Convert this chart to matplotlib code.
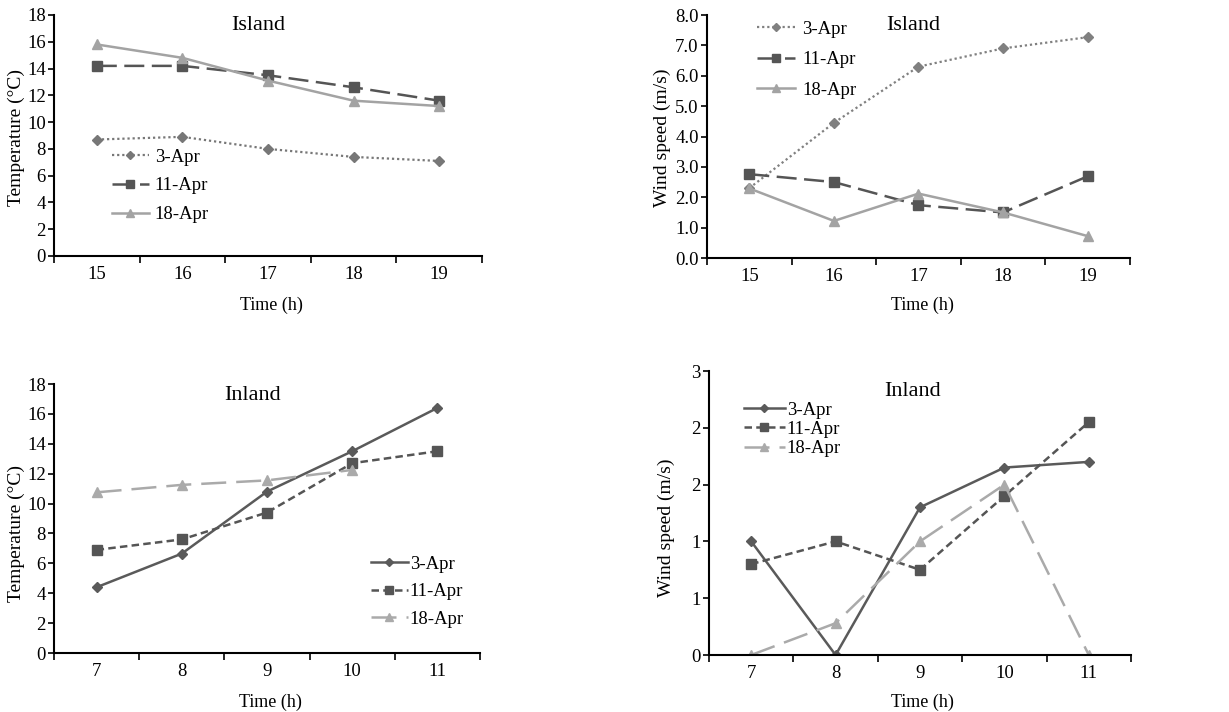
import matplotlib
matplotlib.use("Agg")
import matplotlib.pyplot as plt
import numpy as np

plt.rcParams['font.family'] = ['Liberation Serif', 'DejaVu Serif']

W, H = 1229, 712

# ---------------- data ----------------
series_labels = ['3-Apr', '11-Apr', '18-Apr']

island_hours = ['15', '16', '17', '18', '19']
island_temp_3apr = [8.7, 8.9, 8.0, 7.4, 7.1]
island_temp_11apr = [14.2, 14.2, 13.5, 12.6, 11.6]
island_temp_18apr = [15.8, 14.8, 13.1, 11.6, 11.2]

island_wind_3apr = [2.3, 4.45, 6.3, 6.9, 7.27]
island_wind_11apr = [2.76, 2.5, 1.74, 1.5, 2.69]
island_wind_18apr = [2.29, 1.22, 2.12, 1.5, 0.72]

inland_hours = ['7', '8', '9', '10', '11']
inland_temp_3apr = [4.4, 6.65, 10.8, 13.5, 16.4]
inland_temp_11apr = [6.9, 7.6, 9.4, 12.7, 13.5]
inland_temp_18apr = [10.75, 11.25, 11.55, 12.25, np.nan]

inland_wind_3apr = [1.0, 0.0, 1.3, 1.65, 1.7]
inland_wind_11apr = [0.8, 1.0, 0.75, 1.4, 2.05]
inland_wind_18apr = [0.0, 0.28, 1.0, 1.5, 0.0]

temp_ticks = [0, 2, 4, 6, 8, 10, 12, 14, 16, 18]
island_wind_ticks = [0, 1, 2, 3, 4, 5, 6, 7, 8]
inland_wind_ticks = [0, 0.5, 1.0, 1.5, 2.0, 2.5]
inland_wind_ticklabels = ['0', '1', '1', '2', '2', '3']

TICK_FS = 13.5
XLAB_FS = 13
YLAB_FS = 14
LEG_FS = 13.5
TITLE_FS = 16

fig = plt.figure(figsize=(W / 100, H / 100), dpi=100)


def make_ax(x0, y0, x1, y1):
    return fig.add_axes([x0 / W, 1 - y1 / H, (x1 - x0) / W, (y1 - y0) / H])


def ftext(x, y, s, **kw):
    fig.text(x / W, 1 - y / H, s, **kw)


def style_axes(ax, cats, yticks, ylim, yticklabels=None):
    n = len(cats)
    ax.set_xlim(-0.5, n - 0.5)
    ax.set_ylim(*ylim)
    ax.set_xticks(range(n))
    ax.set_xticklabels(cats, fontsize=TICK_FS)
    ax.set_xticks(np.arange(-0.5, n, 1.0), minor=True)
    ax.tick_params(axis='x', which='major', length=0, pad=7)
    ax.tick_params(axis='x', which='minor', length=5, width=1.2, direction='out')
    ax.set_yticks(yticks)
    if yticklabels is not None:
        ax.set_yticklabels(yticklabels)
    ax.tick_params(axis='y', which='major', length=4, width=1.2, direction='out',
                   pad=2, labelsize=TICK_FS)
    for s in ['top', 'right']:
        ax.spines[s].set_visible(False)
    for s in ['left', 'bottom']:
        ax.spines[s].set_linewidth(1.5)
        ax.spines[s].set_color('black')
    ax.set_facecolor('none')


x = np.arange(5)

# ---------------- top-left: island temperature ----------------
ax1 = make_ax(54, 15, 482, 256)
ax1.plot(x, island_temp_3apr, color='#777777', lw=1.6, ls=(0, (1, 1.3)),
         marker='D', ms=5, label=series_labels[0])
ax1.plot(x, island_temp_11apr, color='#555555', lw=1.8, ls=(0, (8, 3)),
         marker='s', ms=7, label=series_labels[1])
ax1.plot(x, island_temp_18apr, color='#a3a3a3', lw=1.8, ls='-',
         marker='^', ms=7, label=series_labels[2])
style_axes(ax1, island_hours, temp_ticks, (0, 18))
ax1.yaxis.set_major_formatter(matplotlib.ticker.FormatStrFormatter('%d'))
ax1.legend(loc='upper left', bbox_to_anchor=((104 - 54) / 428, (256 - 141) / 241),
           frameon=False, fontsize=LEG_FS, handlelength=2.0, handletextpad=0.3,
           labelspacing=0.62, borderaxespad=0, markerscale=0.8)
ftext(258, 25, 'Island', fontsize=TITLE_FS, ha='center', va='center')
ftext(271, 305, 'Time (h)', fontsize=XLAB_FS, ha='center', va='center')
ftext(16, 138, 'Temperature (°C)', fontsize=YLAB_FS, ha='center', va='center', rotation=90)

# ---------------- top-right: island wind ----------------
ax2 = make_ax(707, 15, 1130, 258)
ax2.plot(x, island_wind_3apr, color='#808080', lw=1.6, ls=(0, (1, 1.3)),
         marker='D', ms=5, label=series_labels[0])
ax2.plot(x, island_wind_11apr, color='#555555', lw=1.8, ls=(0, (8, 3)),
         marker='s', ms=7, label=series_labels[1])
ax2.plot(x, island_wind_18apr, color='#a3a3a3', lw=1.8, ls='-',
         marker='^', ms=7, label=series_labels[2])
style_axes(ax2, island_hours, island_wind_ticks, (0, 8))
ax2.yaxis.set_major_formatter(matplotlib.ticker.FormatStrFormatter('%.1f'))
ax2.legend(loc='upper left', bbox_to_anchor=((750 - 707) / 423, (258 - 13) / 243),
           frameon=False, fontsize=LEG_FS, handlelength=2.0, handletextpad=0.4,
           labelspacing=0.72, borderaxespad=0, markerscale=0.8)
ftext(913, 25, 'Island', fontsize=TITLE_FS, ha='center', va='center')
ftext(922, 305, 'Time (h)', fontsize=XLAB_FS, ha='center', va='center')
ftext(662, 138, 'Wind speed (m/s)', fontsize=YLAB_FS, ha='center', va='center', rotation=90)

# ---------------- bottom-left: inland temperature ----------------
ax3 = make_ax(54, 384, 480, 653)
ax3.plot(x, inland_temp_3apr, color='#5a5a5a', lw=1.8, ls='-',
         marker='D', ms=5, label=series_labels[0])
ax3.plot(x, inland_temp_11apr, color='#555555', lw=1.8, ls=(0, (3, 1.7)),
         marker='s', ms=7, label=series_labels[1])
ax3.plot(x, inland_temp_18apr, color='#aaaaaa', lw=1.8, ls=(0, (10, 4)),
         marker='^', ms=7, label=series_labels[2])
style_axes(ax3, inland_hours, temp_ticks, (0, 18))
ax3.yaxis.set_major_formatter(matplotlib.ticker.FormatStrFormatter('%d'))
ax3.legend(loc='upper left', bbox_to_anchor=((363 - 54) / 426, (653 - 548) / 269),
           frameon=False, fontsize=LEG_FS, handlelength=2.0, handletextpad=0.1,
           labelspacing=0.55, borderaxespad=0, markerscale=0.8)
ftext(253, 395, 'Inland', fontsize=TITLE_FS, ha='center', va='center')
ftext(270, 702, 'Time (h)', fontsize=XLAB_FS, ha='center', va='center')
ftext(16, 533, 'Temperature (°C)', fontsize=YLAB_FS, ha='center', va='center', rotation=90)

# ---------------- bottom-right: inland wind ----------------
ax4 = make_ax(709, 371, 1131, 655)
ax4.plot(x, inland_wind_3apr, color='#5a5a5a', lw=1.8, ls='-',
         marker='D', ms=5, label=series_labels[0])
ax4.plot(x, inland_wind_11apr, color='#555555', lw=1.8, ls=(0, (3, 1.7)),
         marker='s', ms=7, label=series_labels[1])
ax4.plot(x, inland_wind_18apr, color='#aaaaaa', lw=1.8, ls=(0, (10, 4)),
         marker='^', ms=7, label=series_labels[2])
style_axes(ax4, inland_hours, inland_wind_ticks, (0, 2.5), inland_wind_ticklabels)
ax4.legend(loc='upper left', bbox_to_anchor=((736 - 709) / 422, (655 - 394) / 284),
           frameon=False, fontsize=LEG_FS, handlelength=2.2, handletextpad=0.1,
           labelspacing=0.12, borderaxespad=0, markerscale=0.8)
ftext(913, 391, 'Inland', fontsize=TITLE_FS, ha='center', va='center')
ftext(922, 702, 'Time (h)', fontsize=XLAB_FS, ha='center', va='center')
ftext(666, 528, 'Wind speed (m/s)', fontsize=YLAB_FS, ha='center', va='center', rotation=90)

fig.savefig('out.png', dpi=100)
